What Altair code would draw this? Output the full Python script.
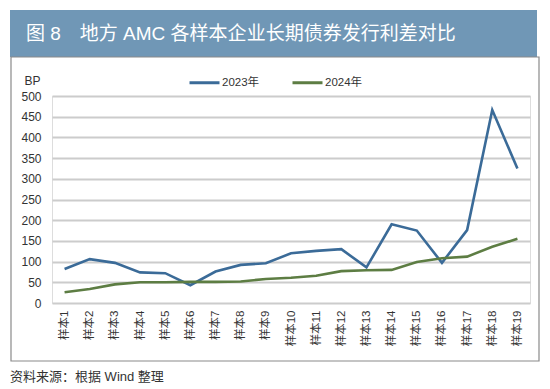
import altair as alt
import pandas as pd

samples = [f"样本{i}" for i in range(1, 20)]
v2023 = [82, 106, 97, 74, 72, 43, 76, 92, 96, 120, 126, 130, 86, 190, 175, 97, 176, 466, 325]
v2024 = [26, 34, 45, 50, 50, 51, 51, 52, 58, 61, 66, 77, 79, 80, 99, 108, 112, 136, 155]
series = ["2023年", "2024年"]
colors = ["#3b6b98", "#5d7d43"]
y_ticks = list(range(0, 501, 50))

title_text = "图 8　地方 AMC 各样本企业长期债券发行利差对比"
source_text = "资料来源：根据 Wind 整理"

FONT = "Liberation Sans, Noto Sans CJK SC, sans-serif"

rows = []
for s, a, b in zip(samples, v2023, v2024):
    rows.append({"sample": s, "series": series[0], "value": a})
    rows.append({"sample": s, "series": series[1], "value": b})
df = pd.DataFrame(rows)
one = pd.DataFrame({"k": [0]})

W, H = 478, 207

lines = alt.Chart(df).mark_line(strokeWidth=2.6).encode(
    x=alt.X("sample:N", sort=samples, scale=alt.Scale(type="point", padding=0.5),
            axis=alt.Axis(title=None, labelAngle=-90, ticks=False, domain=False,
                          labelPadding=7, labelFontSize=11.5, labelColor="#333",
                          labelFont=FONT, grid=False)),
    y=alt.Y("value:Q", scale=alt.Scale(domain=[0, 500], nice=False),
            axis=alt.Axis(values=y_ticks, title="BP", titleAngle=0, titleAlign="left",
                          titleBaseline="middle", titleX=-28, titleY=-16,
                          titleFontSize=12, titleFontWeight="normal", titleColor="#333",
                          titleFont=FONT,
                          ticks=False, domain=False, labelPadding=11,
                          labelFontSize=12, labelColor="#333", labelFont=FONT,
                          gridColor="#cccccc", gridWidth=2)),
    color=alt.Color("series:N", scale=alt.Scale(domain=series, range=colors),
                    legend=alt.Legend(title=None, orient="none", direction="horizontal",
                                      legendX=136, legendY=-30, symbolType="stroke",
                                      symbolSize=900, symbolStrokeWidth=3,
                                      labelOffset=1, columnPadding=26,
                                      labelFontSize=11.5, labelColor="#333",
                                      labelFont=FONT)),
)

title_bar = alt.Chart(one).mark_rect(color="#7097b6").encode(
    x=alt.value(-42), x2=alt.value(485), y=alt.value(-86), y2=alt.value(-39))

border = alt.Chart(one).mark_rect(fill=None, stroke="#8a8a8a", strokeWidth=1.2).encode(
    x=alt.value(-41), x2=alt.value(487), y=alt.value(-39), y2=alt.value(265))

title = alt.Chart(one).mark_text(text=title_text, color="white", fontSize=19,
                                 align="left", baseline="middle", font=FONT).encode(
    x=alt.value(-26), y=alt.value(-62))

source = alt.Chart(one).mark_text(text=source_text, color="#333", fontSize=13,
                                  align="left", baseline="middle", font=FONT).encode(
    x=alt.value(-42), y=alt.value(281))

chart = alt.layer(title_bar, border, title, source, lines).properties(
    width=W, height=H,
    autosize=alt.AutoSizeParams(type="none"),
    padding={"left": 44, "top": 88, "right": 12, "bottom": 84},
).configure_view(stroke=None).configure(background="white")

chart.save("out.html", embed_options={"renderer": "svg", "actions": False})
